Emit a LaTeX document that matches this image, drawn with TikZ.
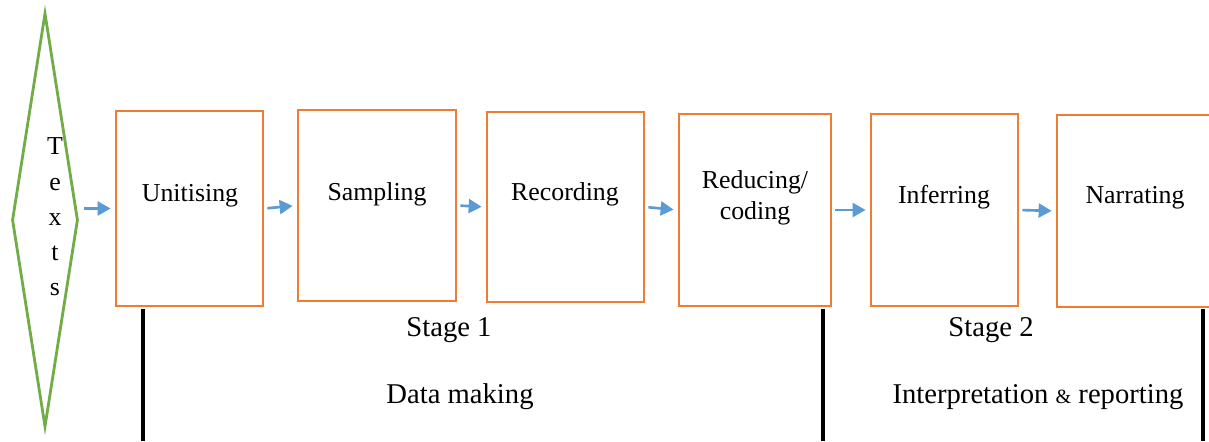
\documentclass[tikz,border=0pt]{standalone}
\usepackage{fontspec}
\setmainfont{Liberation Serif}
\usetikzlibrary{arrows.meta, shapes.geometric}

\definecolor{boxorange}{RGB}{237,125,49}
\definecolor{leafgreen}{RGB}{112,173,71}
\definecolor{flowblue}{RGB}{91,155,213}

\begin{document}
\begin{tikzpicture}[x=0.02cm, y=-0.02cm,
        stagebox/.style={draw=boxorange, line width=1.6pt, inner sep=0pt},
        textsdiamond/.style={diamond, draw=leafgreen, line width=1.6pt, inner sep=0pt,
            minimum width=1.32cm, minimum height=8.28cm},
        boxtext/.style={font=\fontsize{14.7}{17.5}\selectfont, align=center, inner sep=0pt},
        flow/.style={-{Triangle[length=0.26cm, width=0.28cm]}, draw=flowblue, line width=1.5pt,
            shorten <=0.06cm, shorten >=0.08cm},
        divider/.style={line width=2pt},
        banner/.style={font=\fontsize{16.3}{19}\selectfont, anchor=base, inner sep=0pt}]
        \useasboundingbox (0, 0) rectangle (1209, 441);

        % input
        \node[textsdiamond] (texts) at (45, 220) {};
        \node[boxtext, font=\fontsize{14.7}{20.1}\selectfont] (textslbl) at (55, 217) {T\\e\\x\\t\\s};

        % the six steps
        \node[stagebox, minimum width=2.94cm, minimum height=3.90cm] (unit) at (189.5, 208.5) {};
        \node[stagebox, minimum width=3.16cm, minimum height=3.82cm] (samp) at (377, 205.5) {};
        \node[stagebox, minimum width=3.14cm, minimum height=3.80cm] (rec) at (565.5, 207) {};
        \node[stagebox, minimum width=3.04cm, minimum height=3.84cm] (red) at (755, 210) {};
        \node[stagebox, minimum width=2.94cm, minimum height=3.84cm] (inf) at (944.5, 210) {};
        \node[stagebox, minimum width=3.14cm, minimum height=3.84cm] (narr) at (1135.5, 211) {};

        \node[boxtext] (unitlbl) at (190, 196) {Unitising};
        \node[boxtext] (samplbl) at (377, 194) {Sampling};
        \node[boxtext] (reclbl) at (565, 194) {Recording};
        \node[boxtext] (redlbl) at (755, 198) {Reducing/\\coding};
        \node[boxtext] (inflbl) at (944, 197) {Inferring};
        \node[boxtext] (narrlbl) at (1135, 198) {Narrating};

        % arrows
        \draw[flow, shorten <=0.1cm] (texts.east |- unit.west) -- (unit.west);
        \foreach \a/\b in {unit/samp, samp/rec, rec/red, red/inf, inf/narr} {
            \draw[flow] (\a.east) -- (\b.west);
        }

        % stages
        \foreach \x in {143, 823, 1203} {
            \draw[divider] (\x, 309) -- (\x, 441);
        }
        \node[banner] (stageone) at (449, 336) {Stage 1};
        \node[banner] (stagetwo) at (991, 336) {Stage 2};
        \node[banner] (making) at (460, 403) {Data making};
        \node[banner] (reporting) at (1038, 403) {Interpretation {\fontsize{11.5}{14}\selectfont\&} reporting};
    \end{tikzpicture}
\end{document}
